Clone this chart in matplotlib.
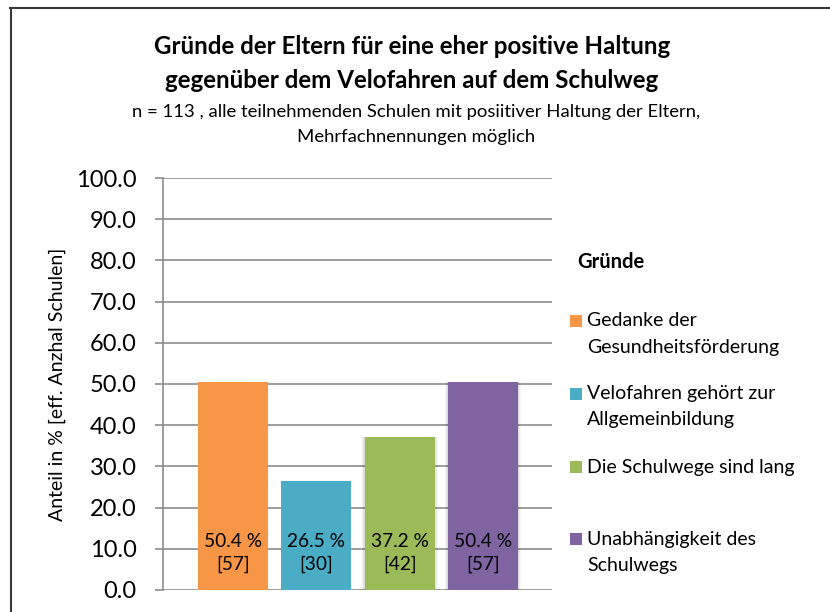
import matplotlib
matplotlib.use("Agg")
import matplotlib.pyplot as plt
from matplotlib.patches import Rectangle
from matplotlib.lines import Line2D

plt.rcParams['font.family'] = ['Lato', 'DejaVu Sans']

# Data
categories = ["Gedanke der\nGesundheitsförderung",
              "Velofahren gehört zur\nAllgemeinbildung",
              "Die Schulwege sind lang",
              "Unabhängigkeit des\nSchulwegs"]
percent = [50.4, 26.5, 37.2, 50.4]
counts = [57, 30, 42, 57]
colors = ["#F79646", "#4BACC6", "#9BBB59", "#8064A2"]
yticks = [0, 10, 20, 30, 40, 50, 60, 70, 80, 90, 100]

W, H = 830, 612
fig = plt.figure(figsize=(W / 100, H / 100), dpi=100)

def fx(px):
    return px / W

def fy(py):
    return 1 - py / H

# Frame (top and left edges)
fig.add_artist(Line2D([fx(10), fx(830)], [fy(7.5), fy(7.5)], color="#3a3a3a", lw=1.5))
fig.add_artist(Line2D([fx(10.5), fx(10.5)], [fy(7.5), fy(612)], color="#3a3a3a", lw=1.5))

# Titles
fig.text(fx(412), fy(46), "Gründe der Eltern für eine eher positive Haltung",
         ha="center", va="center", fontsize=17.4, fontweight="bold")
fig.text(fx(412), fy(80), "gegenüber dem Velofahren auf dem Schulweg",
         ha="center", va="center", fontsize=17.4, fontweight="bold")
fig.text(fx(416), fy(112), "n = 113 , alle teilnehmenden Schulen mit posiitiver Haltung der Eltern,",
         ha="center", va="center", fontsize=13.3)
fig.text(fx(416), fy(137), "Mehrfachnennungen möglich",
         ha="center", va="center", fontsize=13.3)

ax = fig.add_axes([fx(163), fy(590), fx(552) - fx(163), fy(178) - fy(590)])
x = list(range(len(categories)))
width = 0.84

# Soft shadow behind the last two bars
for i in (2, 3):
    for k in range(1, 5):
        ax.bar(x[i], percent[i] + 0.25 * k, width=width + 0.018 * k,
               bottom=-0.25 * k, color="black", alpha=0.035, zorder=1.5, linewidth=0)

ax.bar(x, percent, width=width, color=colors, zorder=2, linewidth=0)

for xi, p, c in zip(x, percent, counts):
    ax.text(xi, 9.0, f"{p:.1f} %\n[{c}]", ha="center", va="center",
            fontsize=13.8, linespacing=1.4, zorder=3)

ax.set_xlim(-0.84, 3.83)
ax.set_ylim(0, 100)
ax.set_yticks(yticks)
ax.set_yticklabels([f"{v:.1f}" for v in yticks], fontsize=17)
ax.set_xticks([])
ax.yaxis.grid(True, color="#8c8c8c", lw=1.2, zorder=0)
ax.set_axisbelow(True)
for s in ("top", "right", "bottom"):
    ax.spines[s].set_visible(False)
ax.spines["left"].set_color("#8c8c8c")
ax.spines["left"].set_linewidth(1.2)
ax.tick_params(axis="y", length=6, width=1.2, color="#8c8c8c", pad=13)

# Y axis title
fig.text(fx(57), fy(384), "Anteil in % [eff. Anzhal Schulen]", rotation=90,
         ha="center", va="center", fontsize=14)

# Legend
fig.text(fx(577), fy(262), "Gründe", ha="left", va="center",
         fontsize=14.5, fontweight="bold")
legend_rows = [321, 394, 467, 539]
for label, col, row in zip(categories, colors, legend_rows):
    fig.add_artist(Rectangle((fx(570), fy(row + 6)), fx(12), fy(row - 6) - fy(row + 6),
                             facecolor=col, edgecolor="none", transform=fig.transFigure))
    for j, line in enumerate(label.split("\n")):
        fig.text(fx(587), fy(row + 26 * j), line, ha="left", va="center", fontsize=14)

fig.savefig("out.png", dpi=100)
